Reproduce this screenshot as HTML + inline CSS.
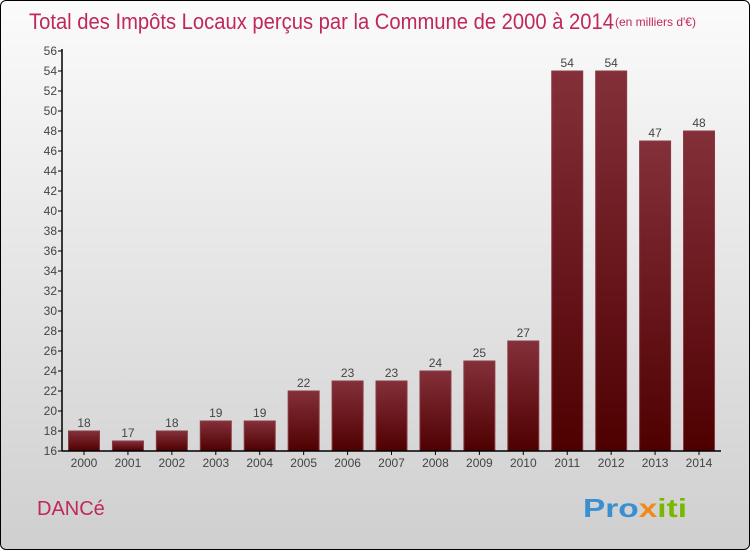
<!DOCTYPE html>
<html><head><meta charset="utf-8"><style>
body{margin:0;width:750px;height:550px;overflow:hidden;font-family:"Liberation Sans",sans-serif}
#frame{position:absolute;left:0;top:0;width:748px;height:548px;border:1px solid #000;border-radius:6px;background:linear-gradient(#fbfbfb,#f2f2f2 20%,#cfcfcf);overflow:hidden}
</style></head><body>
<div id="frame">
<svg id="chart" width="750" height="550">
<defs><linearGradient id="bg" x1="0" y1="0" x2="0" y2="1"><stop offset="0" stop-color="#84303a"/><stop offset="1" stop-color="#4e0000"/></linearGradient></defs>
<text x="28" y="28" font-size="22" fill="#c0285a" textLength="585" lengthAdjust="spacingAndGlyphs">Total des Impôts Locaux perçus par la Commune de 2000 à 2014</text>
<text x="614" y="25" font-size="12" fill="#c0285a">(en milliers d'€)</text>
<text x="36" y="514" font-size="20" fill="#c0285a">DANCé</text>
<text x="582" y="516" font-size="26" font-weight="bold" textLength="104" lengthAdjust="spacingAndGlyphs"><tspan fill="#3a8fd0">Pro</tspan><tspan fill="#f08a1c">x</tspan><tspan fill="#7ab800">iti</tspan></text>
<g id="plot"></g>
</svg></div>
<script>
const years=["2000","2001","2002","2003","2004","2005","2006","2007","2008","2009","2010","2011","2012","2013","2014"];
const values=[18,17,18,19,19,22,23,23,24,25,27,54,54,47,48];
const yTicks=[16,18,20,22,24,26,28,30,32,34,36,38,40,42,44,46,48,50,52,54,56];
const ns="http://www.w3.org/2000/svg";
const g=document.getElementById('plot');
const y=v=>450-(v-16)*10;
const x=i=>83+i*43.93;
function mk(t,a){const e=document.createElementNS(ns,t);for(const k in a)e.setAttribute(k,a[k]);g.appendChild(e);return e;}
yTicks.forEach(t=>{
 const l=mk('line',{x1:57,x2:61,y1:y(t),y2:y(t),stroke:'#000'});
 
 
 const tx=mk('text',{x:56,y:y(t)+4,'text-anchor':'end','font-size':12,fill:'#444'});
 tx.textContent=t;
 
 
});
values.forEach((v,i)=>{
 const r=mk('rect',{x:x(i)-15.5,y:y(v),width:31,height:450-y(v),fill:'url(#bg)',stroke:'#8a3a44','stroke-width':1});
 
 
 const vl=mk('text',{x:x(i),y:y(v)-4,'text-anchor':'middle','font-size':12,fill:'#444'});
 vl.textContent=v;
 
 
 const tk=mk('line',{x1:x(i),x2:x(i),y1:450,y2:454,stroke:'#000'});
 
 
 const xl=mk('text',{x:x(i),y:466,'text-anchor':'middle','font-size':12,fill:'#444'});
 xl.textContent=years[i];
 
 
});
const ya=mk('line',{x1:61,x2:61,y1:48,y2:450,stroke:'#000','stroke-width':1.5});


const xa=mk('line',{x1:61,x2:720,y1:450,y2:450,stroke:'#000','stroke-width':1.5});


</script>
</body></html>
